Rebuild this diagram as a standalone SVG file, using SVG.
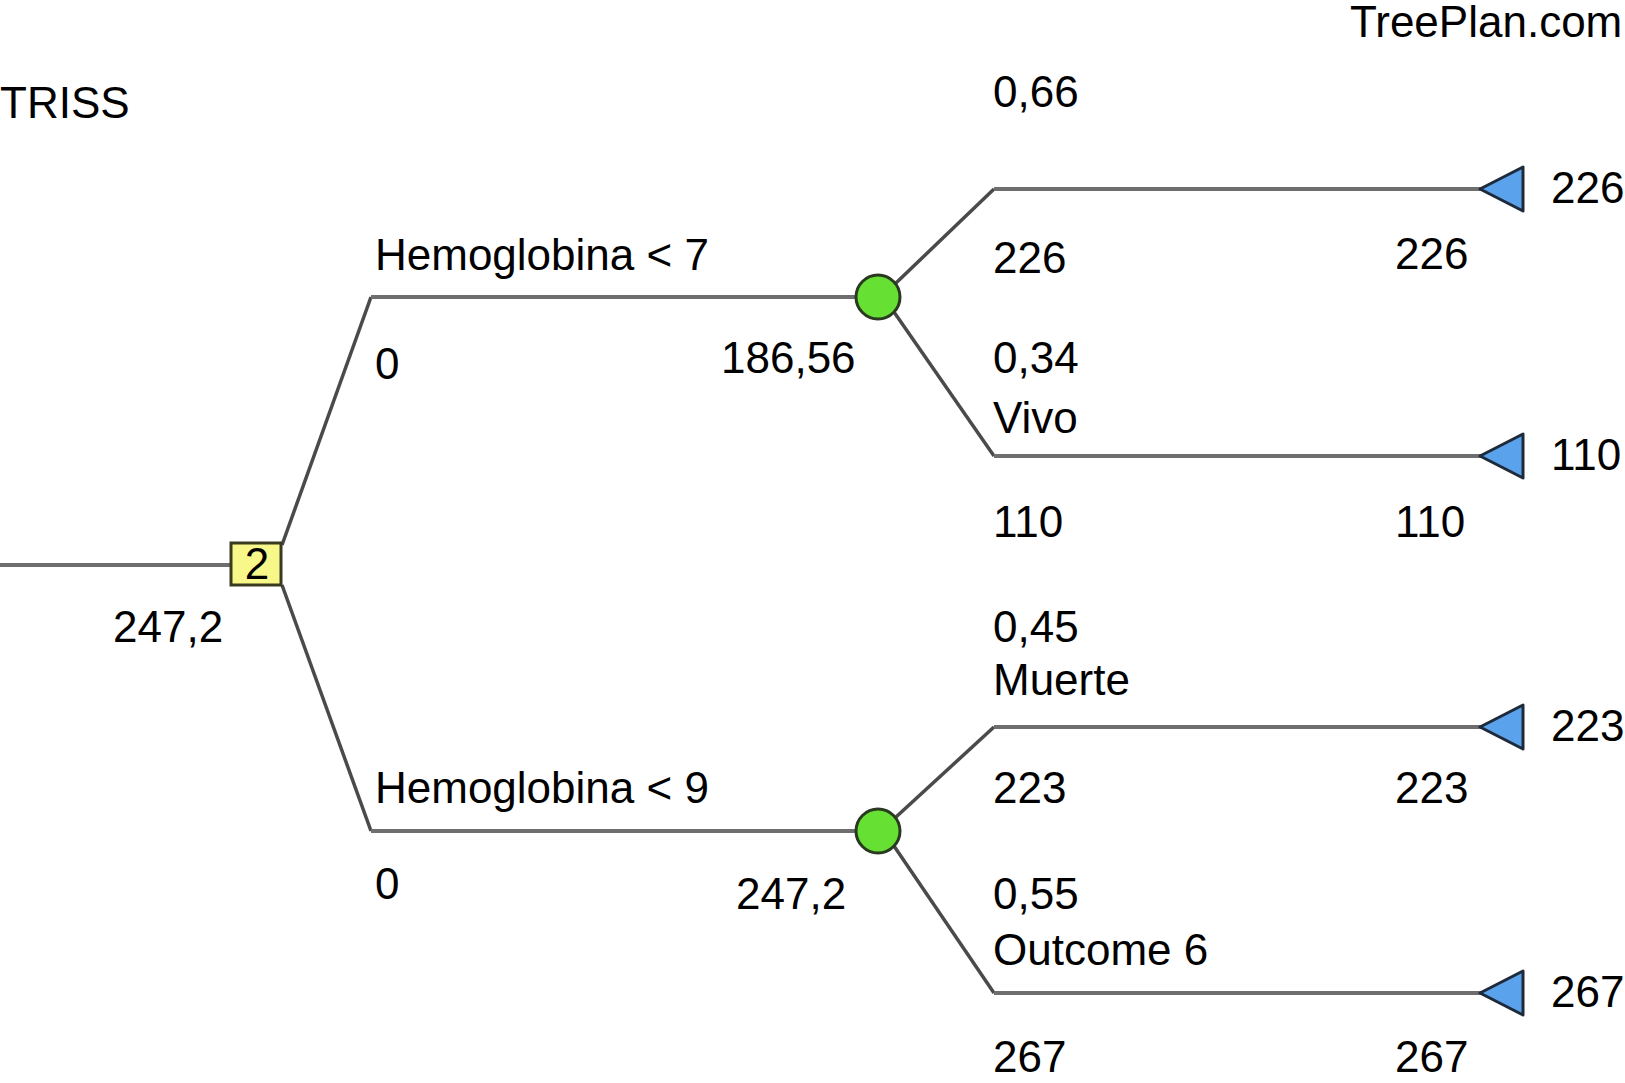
<svg xmlns="http://www.w3.org/2000/svg" width="1625" height="1083" viewBox="0 0 1625 1083">
<style>
text{font-family:"Liberation Sans",Arial,sans-serif;font-size:44px;fill:#000}
.h{stroke:#6e6e6e;stroke-width:4;fill:none}
.d{stroke:#4a4a4a;stroke-width:3.5;fill:none}
.chance{fill:#66e032;stroke:#2a3a20;stroke-width:3}
.term{fill:#5aa2ec;stroke:#1e2a3a;stroke-width:3;stroke-linejoin:round}
.dec{fill:#f7f78a;stroke:#3a3a20;stroke-width:3}
</style>
<rect width="1625" height="1083" fill="#fff"/>
<text x="1350" y="37" font-size="43">TreePlan.com</text>
<text x="0" y="118">TRISS</text>
<g id="connectors">
<path class="h" d="M0 565H232"/>
<path class="d" d="M282 545L371 297"/>
<path class="h" d="M371 297H858"/>
<path class="d" d="M282 585L371 831"/>
<path class="h" d="M371 831H858"/>
<path class="d" d="M896 283L994 189"/>
<path class="h" d="M994 189H1482"/>
<path class="d" d="M894 312L994 456"/>
<path class="h" d="M994 456H1482"/>
<path class="d" d="M896 817L994 727"/>
<path class="h" d="M994 727H1482"/>
<path class="d" d="M894 846L994 993"/>
<path class="h" d="M994 993H1482"/>
</g>
<g id="decision">
<rect class="dec" x="231" y="543" width="50" height="42"/>
<text x="257" y="579" text-anchor="middle" font-size="42">2</text>
<text x="113" y="642">247,2</text>
</g>
<g id="branch1">
<text x="375" y="270">Hemoglobina &lt; 7</text>
<text x="375" y="379">0</text>
</g>
<g id="chance1">
<circle class="chance" cx="878" cy="297" r="22"/>
<text x="721" y="373">186,56</text>
</g>
<g id="branch2">
<text x="375" y="803">Hemoglobina &lt; 9</text>
<text x="375" y="899">0</text>
</g>
<g id="chance2">
<circle class="chance" cx="878" cy="831" r="22"/>
<text x="736" y="909">247,2</text>
</g>
<g id="outcome1">
<text x="993" y="107">0,66</text>
<text x="993" y="273">226</text>
<text x="1395" y="269">226</text>
<polygon class="term" points="1480,189 1523,167 1523,211"/>
<text x="1551" y="203">226</text>
</g>
<g id="outcome2">
<text x="993" y="373">0,34</text>
<text x="993" y="433">Vivo</text>
<text x="993" y="537">110</text>
<text x="1395" y="537">110</text>
<polygon class="term" points="1480,456 1523,434 1523,478"/>
<text x="1551" y="470">110</text>
</g>
<g id="outcome3">
<text x="993" y="642">0,45</text>
<text x="993" y="695">Muerte</text>
<text x="993" y="803">223</text>
<text x="1395" y="803">223</text>
<polygon class="term" points="1480,727 1523,705 1523,749"/>
<text x="1551" y="741">223</text>
</g>
<g id="outcome4">
<text x="993" y="909">0,55</text>
<text x="993" y="965">Outcome 6</text>
<text x="993" y="1072">267</text>
<text x="1395" y="1072">267</text>
<polygon class="term" points="1480,993 1523,971 1523,1015"/>
<text x="1551" y="1007">267</text>
</g>
</svg>
